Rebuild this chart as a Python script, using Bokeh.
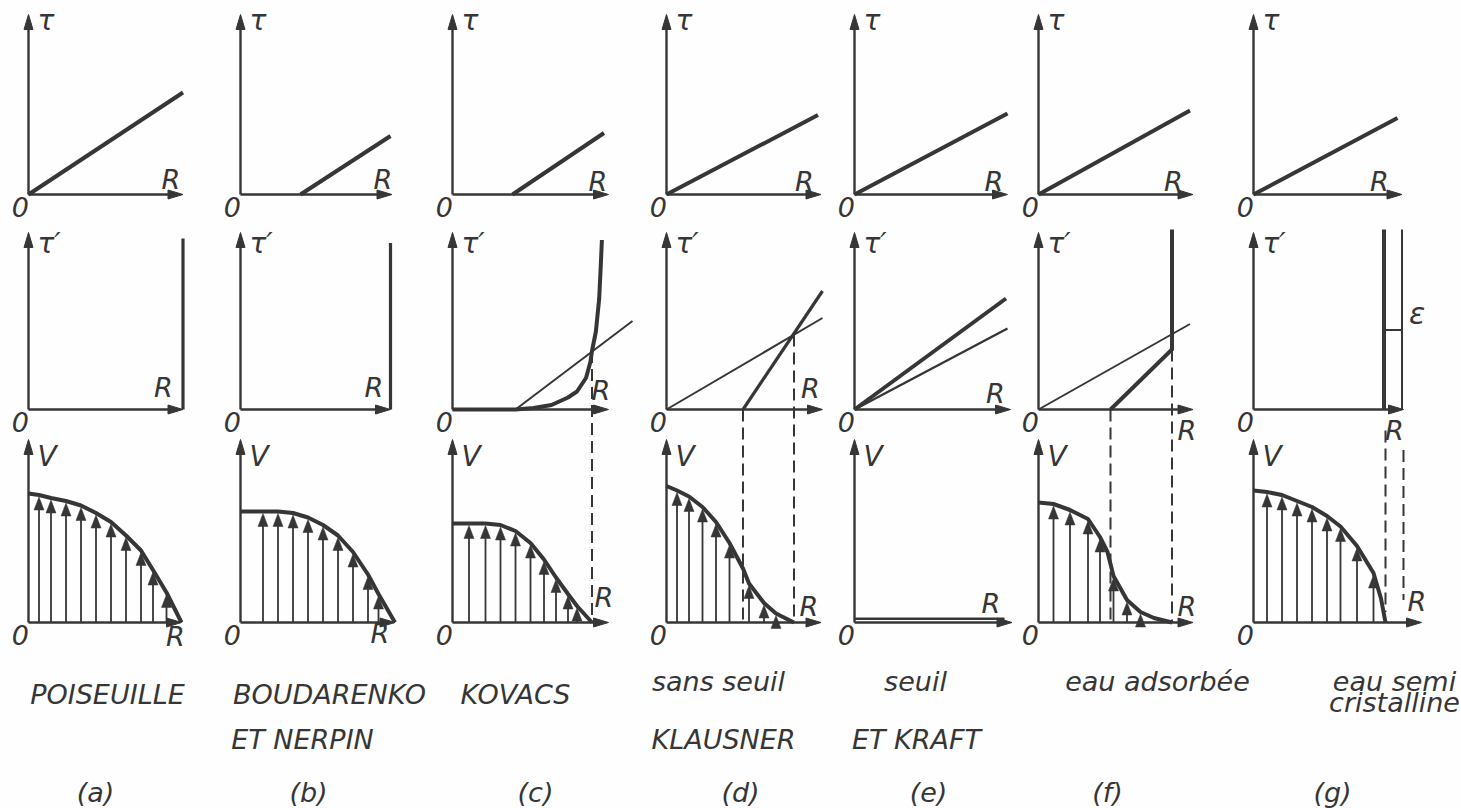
import numpy as np
from bokeh.plotting import figure
from bokeh.models import Range1d
from bokeh.core.properties import value
from bokeh.embed import file_html
from bokeh.resources import INLINE

# ---------------------------------------------------------------- data
# Seven flow models (a)..(g); radius R and stresses in common drawing units.
panel_letters = ["(a)", "(b)", "(c)", "(d)", "(e)", "(f)", "(g)"]
caption_texts = ["POISEUILLE", "BOUDARENKO", "ET NERPIN", "KOVACS",
                 "sans seuil", "KLAUSNER", "seuil", "ET KRAFT",
                 "eau adsorbée", "eau semi", "cristalline"]

# top row: shear stress tau(R), a straight line from (r_start, 0) to (r_end, tau_end)
tau_r_start = [0.00, 0.40, 0.40, 0.00, 0.00, 0.00, 0.00]
tau_r_end = [1.03, 1.00, 1.01, 1.01, 1.02, 1.01, 0.96]
tau_end = [0.68, 0.39, 0.41, 0.53, 0.54, 0.56, 0.51]

# middle row: tau'(R)
wall_r = [1.03, 1.00]            # (a), (b): stress wall at the pipe radius
wall_top = [1.14, 1.11]
kovacs_r = [0.00, 0.42, 0.54, 0.66, 0.77, 0.83, 0.89, 0.92, 0.93, 0.956, 0.978, 0.989, 0.996]
kovacs_t = [0.00, 0.00, 0.01, 0.03, 0.08, 0.12, 0.21, 0.32, 0.39, 0.52, 0.74, 0.97, 1.13]
kovacs_ref_r = [0.42, 1.20]
kovacs_ref_t = [0.00, 0.59]
klaus_thin_r = [0.00, 1.04]
klaus_thin_t = [0.00, 0.61]
klaus_thick_r = [0.51, 1.04]
klaus_thick_t = [0.00, 0.79]
seuil_thick_r = [0.00, 1.01]
seuil_thick_t = [0.00, 0.74]
seuil_thin_r = [0.00, 1.02]
seuil_thin_t = [0.00, 0.54]
ads_thin_r = [0.00, 1.01]
ads_thin_t = [0.00, 0.57]
ads_thick_r = [0.48, 0.89, 0.89]
ads_thick_t = [0.00, 0.40, 1.20]
semi_inner_r, semi_outer_r = 0.87, 0.99
semi_top, semi_step_t = 1.20, 0.53

# projection lines: column, radius, top (tau' units), bottom (V units)
proj_col = [2, 3, 3, 5, 5, 6, 6]
proj_r = [0.93, 0.51, 0.85, 0.48, 0.89, 0.88, 1.00]
proj_top = [0.39, 0.00, 0.50, 0.00, 0.40, -0.14, -0.27]
proj_bottom = [0.00, 0.00, 0.00, 0.00, 0.00, 0.07, 0.15]

# bottom row: velocity profiles V(r); arrow = 1 where a velocity vector is drawn
vel_r = [
    [0, 0.07, 0.15, 0.25, 0.35, 0.45, 0.55, 0.65, 0.75, 0.83, 0.92, 1.02],
    [0, 0.15, 0.25, 0.35, 0.45, 0.55, 0.65, 0.75, 0.85, 0.92, 1.03],
    [0, 0.11, 0.22, 0.32, 0.42, 0.52, 0.61, 0.69, 0.77, 0.83, 0.93],
    [0, 0.07, 0.15, 0.24, 0.33, 0.42, 0.51, 0.55, 0.65, 0.73, 0.85],
    [0, 1.00],
    [0, 0.10, 0.21, 0.33, 0.41, 0.46, 0.50, 0.59, 0.68, 0.77, 0.89],
    [0, 0.09, 0.19, 0.29, 0.39, 0.49, 0.58, 0.69, 0.80, 0.85, 0.88],
]
vel_v = [
    [0.86, 0.85, 0.83, 0.81, 0.78, 0.73, 0.67, 0.58, 0.48, 0.35, 0.20, 0.0],
    [0.74, 0.74, 0.74, 0.73, 0.70, 0.65, 0.58, 0.47, 0.32, 0.19, 0.0],
    [0.66, 0.66, 0.66, 0.65, 0.61, 0.53, 0.42, 0.30, 0.19, 0.11, 0.0],
    [0.91, 0.88, 0.84, 0.77, 0.67, 0.53, 0.36, 0.26, 0.13, 0.06, 0.0],
    [0.025, 0.025],
    [0.80, 0.79, 0.75, 0.69, 0.57, 0.47, 0.31, 0.15, 0.07, 0.03, 0.0],
    [0.88, 0.87, 0.85, 0.81, 0.77, 0.71, 0.64, 0.51, 0.33, 0.16, 0.0],
]
vel_arrow = [
    [0, 1, 1, 1, 1, 1, 1, 1, 1, 1, 1, 0],
    [0, 1, 1, 1, 1, 1, 1, 1, 1, 1, 0],
    [0, 1, 1, 1, 1, 1, 1, 1, 1, 1, 0],
    [0, 1, 1, 1, 1, 1, 0, 1, 1, 1, 0],
    [0, 0],
    [0, 1, 1, 1, 1, 0, 1, 1, 1, 0, 0],
    [0, 1, 1, 1, 1, 1, 1, 1, 1, 0, 0],
]

# ---------------------------------------------------------------- layout
W, H = 1461, 808
S = 150.0                                   # px per drawing unit
COL_X = [28, 240, 452, 666, 854, 1038, 1253]
ROW_Y = [194, 409, 622]
V_LEN = [1.20, 1.18, 1.22]
H_LEN = [
    [1.03, 1.01, 1.04, 1.03, 1.02, 1.03, 0.99],
    [1.03, 1.00, 1.04, 1.04, 1.04, 1.03, 1.00],
    [1.02, 1.03, 1.04, 1.03, 1.05, 1.03, 1.12],
]
R_LABEL = [
    [(0.95, 0.10), (0.95, 0.10), (0.97, 0.09), (0.92, 0.09), (0.93, 0.09), (0.90, 0.09), (0.84, 0.09)],
    [(0.90, 0.15), (0.89, 0.15), (0.99, 0.13), (0.96, 0.14), (0.94, 0.11), (0.99, -0.14), (0.94, -0.14)],
    [(0.98, -0.09), (0.93, -0.07), (1.01, 0.17), (0.95, 0.11), (0.91, 0.13), (0.99, 0.11), (1.09, 0.14)],
]
AXIS_NAMES = ["τ", "τ′", "V"]
AXIS_NAME_Y = [1.16, 1.11, 1.11]
CAPTION_XY = [(107, 694), (329, 694), (302, 739), (515, 694), (718, 681), (723, 739),
              (915, 681), (916, 739), (1157, 681), (1394, 681), (1394, 702)]
LETTER_X = [95, 308, 535, 740, 928, 1107, 1332]
LETTER_Y = 792

INK = "#363636"
PAPER = "#fefefe"
FONT = value("DejaVu Sans")
THICK, THIN, AXIS_W = 4.0, 2.0, 2.4

p = figure(width=W, height=H, x_range=Range1d(0, W), y_range=Range1d(H, 0),
           x_axis_type=None, y_axis_type=None, toolbar_location=None,
           output_backend="svg", min_border=0, outline_line_color=None,
           background_fill_color=PAPER, border_fill_color=PAPER, title=None)

# one linear scale per panel column / row, all sharing S px per unit
p.extra_x_ranges = {f"c{i}": Range1d(-x0 / S, (W - x0) / S) for i, x0 in enumerate(COL_X)}
p.extra_y_ranges = {f"r{j}": Range1d(-(H - y0) / S, y0 / S) for j, y0 in enumerate(ROW_Y)}


def on(i, j):
    return {"x_range_name": f"c{i}", "y_range_name": f"r{j}"}


def label(i, j, xs, ys, texts, size="26px", align="center"):
    p.text(x=xs, y=ys, text=texts, text_font=FONT, text_font_style="italic",
           text_font_size=size, text_color=INK, text_align=align,
           text_baseline="middle", **on(i, j))


HL, HW = 15 / S, 4.5 / S        # axis arrow head
AL, AW = 13 / S, 5.0 / S        # velocity vector head
GAP = 2 / S

for j in range(3):
    for i in range(7):
        hl, vl = H_LEN[j][i], V_LEN[j]
        p.multi_line([[0, 0], [0, hl - HL]], [[0, vl - HL], [0, 0]],
                     line_width=AXIS_W, line_color=INK, **on(i, j))
        p.patches([[-HW, HW, 0], [hl - HL, hl - HL, hl]],
                  [[vl - HL, vl - HL, vl], [-HW, HW, 0]],
                  fill_color=INK, line_color=INK, line_width=1, **on(i, j))
        label(i, j, [0.06], [AXIS_NAME_Y[j]], [AXIS_NAMES[j]], size="28px", align="left")
        label(i, j, [-0.055], [-0.085], ["0"], size="27px")
        rx, ry = R_LABEL[j][i]
        label(i, j, [rx], [ry], ["R"], size="27px")

# ---- top row: tau(R)
for i in range(7):
    p.line([tau_r_start[i], tau_r_end[i]], [0, tau_end[i]],
           line_width=THICK, line_color=INK, **on(i, 0))

# ---- middle row: tau'(R)
for i in range(2):
    p.line([wall_r[i], wall_r[i]], [0, wall_top[i]], line_width=THICK * 0.8,
           line_color=INK, **on(i, 1))
p.line(kovacs_r, kovacs_t, line_width=THICK, line_color=INK, **on(2, 1))
p.line(kovacs_ref_r, kovacs_ref_t, line_width=THIN, line_color=INK, **on(2, 1))
p.line(klaus_thin_r, klaus_thin_t, line_width=THIN, line_color=INK, **on(3, 1))
p.line(klaus_thick_r, klaus_thick_t, line_width=THICK * 0.8, line_color=INK, **on(3, 1))
p.line(seuil_thick_r, seuil_thick_t, line_width=THICK, line_color=INK, **on(4, 1))
p.line(seuil_thin_r, seuil_thin_t, line_width=THIN * 1.2, line_color=INK, **on(4, 1))
p.line(ads_thin_r, ads_thin_t, line_width=THIN, line_color=INK, **on(5, 1))
p.line(ads_thick_r, ads_thick_t, line_width=THICK, line_color=INK,
       line_join="miter", **on(5, 1))
p.line([semi_inner_r, semi_inner_r], [0, semi_top], line_width=THICK, line_color=INK, **on(6, 1))
p.line([semi_outer_r, semi_outer_r], [0, semi_top], line_width=THIN, line_color=INK, **on(6, 1))
p.line([semi_inner_r, semi_outer_r], [semi_step_t, semi_step_t], line_width=THIN,
       line_color=INK, **on(6, 1))
label(6, 1, [1.09], [0.64], ["ε"], size="30px")

# ---- projection lines from the tau' panels down to the velocity panels
row_shift = (ROW_Y[2] - ROW_Y[1]) / S
for c, r, top, bot in zip(proj_col, proj_r, proj_top, proj_bottom):
    p.line([r, r], [top + row_shift, bot], line_width=THIN, line_color=INK,
           line_dash="12 6", **on(c, 2))

# ---- bottom row: velocity profiles with velocity vectors
for i in range(7):
    r = np.array(vel_r[i], dtype=float)
    v = np.array(vel_v[i], dtype=float)
    m = np.array(vel_arrow[i], dtype=bool)
    p.line(r, v, line_width=THICK if i != 4 else AXIS_W, line_color=INK, **on(i, 2))
    if m.any():
        ra, va = r[m], v[m]
        tip = va - GAP
        p.segment(x0=ra, y0=np.zeros_like(ra), x1=ra, y1=tip - AL * 0.8,
                  line_width=1.8, line_color=INK, **on(i, 2))
        p.patches([[x - AW, x + AW, x] for x in ra],
                  [[t - AL, t - AL, t] for t in tip],
                  fill_color=INK, line_color=INK, line_width=0.5, **on(i, 2))

# ---- captions (screen-pixel coordinates of the default ranges)
p.text(x=[xy[0] for xy in CAPTION_XY], y=[xy[1] for xy in CAPTION_XY], text=caption_texts,
       text_font=FONT, text_font_style="italic", text_font_size="27px",
       text_color=INK, text_align="center", text_baseline="middle")
p.text(x=LETTER_X, y=[LETTER_Y] * len(LETTER_X), text=panel_letters,
       text_font=FONT, text_font_style="italic", text_font_size="27px",
       text_color=INK, text_align="center", text_baseline="middle")

open("out.html", "w").write(file_html(p, INLINE))
